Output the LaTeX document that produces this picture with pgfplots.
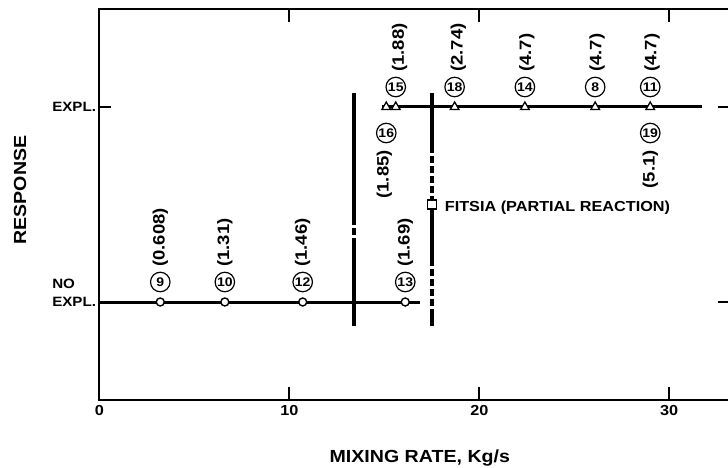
\documentclass[border=0pt]{standalone}
\usepackage{fontspec}
\setmainfont{Liberation Sans}[FakeStretch=1.12]
\usepackage{pgfplots}
\pgfplotsset{compat=1.18}

\newcommand\fs[1]{\bfseries\fontsize{#1bp}{#1bp}\selectfont}

\pgfplotsset{
  circlab/.style={draw=none, forget plot, nodes near coords, point meta=explicit symbolic,
    every node near coord/.append style={black, circle, draw=black, line width=1.2bp,
      minimum size=19.5bp, inner sep=0pt, font=\fs{12.5}, anchor=center, yshift=#1}},
  vallab/.style 2 args={draw=none, forget plot, nodes near coords, point meta=explicit symbolic,
    every node near coord/.append style={black, font=\fs{16.5}, inner sep=0pt,
      yshift=#1, rotate=90, anchor=#2}},
}

\begin{document}
\begin{tikzpicture}
\begin{axis}[
    at={(0bp,0bp)}, anchor=south west,
    scale only axis,
    width=630.5bp, height=390bp,
    xmin=0, xmax=33.2, ymin=-0.5, ymax=1.5,
    clip=false,
    axis line style={line width=2bp},
    every tick/.style={black, line width=2bp},
    major tick length=12bp,
    tick align=inside,
    xtick={0,10,20,30}, xticklabels={0,10,20,30},
    ytick={1}, yticklabels={EXPL.},
    extra y ticks={0}, extra y tick labels={NO\\EXPL.},
    extra y tick style={yticklabel style={align=left, yshift=9bp}},
    /pgf/number format/assume math mode=true,
    xticklabel style={font=\fs{14.5}, yshift=-2bp},
    yticklabel style={font=\bfseries\fontsize{13.5bp}{18bp}\selectfont},
    xlabel={MIXING RATE, Kg/s},
    ylabel={RESPONSE},
    xlabel style={font=\fs{17.5}, at={(axis description cs:0.508,-0.1628)}, anchor=base},
    ylabel style={font=\fs{17.5}, at={(axis description cs:-0.1261,0.537)}, anchor=center},
]

% no explosion
\addplot[black, line width=3bp] coordinates {(0,0) (16.9,0)};
\addplot[only marks, mark=*, mark size=4bp, mark options={fill=white, draw=black, line width=1.4bp}]
  coordinates {(3.2,0) (6.6,0) (10.7,0) (16.1,0)};

% explosion
\addplot[black, line width=3bp] coordinates {(14.9,1) (31.7,1)};
\addplot[only marks, mark=triangle*, mark size=5bp, mark options={fill=white, draw=black, line width=1.3bp}]
  coordinates {(15.1,1) (15.6,1) (18.7,1) (22.4,1) (26.1,1) (29.0,1)};

% boundary at 13.4
\addplot[black, line width=3.6bp] coordinates {(13.4,1.072) (13.4,0.43)};
\addplot[black, line width=3.6bp, dash pattern=on 7bp off 3bp] coordinates {(13.4,0.43) (13.4,0.29)};
\addplot[black, line width=3.6bp] coordinates {(13.4,0.29) (13.4,-0.123)};

% boundary at 17.5
\addplot[black, line width=3.6bp] coordinates {(17.5,1.072) (17.5,0.80)};
\addplot[black, line width=3.6bp, dash pattern=on 7bp off 3bp] coordinates {(17.5,0.80) (17.5,0.53)};
\addplot[black, line width=3.6bp] coordinates {(17.5,0.475) (17.5,0.22)};
\addplot[black, line width=3.6bp, dash pattern=on 7bp off 3bp] coordinates {(17.5,0.22) (17.5,-0.056)};
\addplot[black, line width=3.6bp] coordinates {(17.5,-0.056) (17.5,-0.123)};

% FITSIA partial reaction
\addplot[only marks, mark=square*, mark size=4.5bp, mark options={fill=white, draw=black, line width=1.4bp},
  nodes near coords={FITSIA (PARTIAL REACTION)},
  every node near coord/.append style={black, font=\fs{14.5}, anchor=west, xshift=9bp, yshift=-3bp}]
  coordinates {(17.5,0.5)};

% run numbers
\addplot[circlab=20bp] table[meta=lab] {
x y lab
3.2 0 9
6.6 0 10
10.7 0 12
16.1 0 13
15.6 1 15
18.7 1 18
22.4 1 14
26.1 1 8
29.0 1 11
};
\addplot[circlab=-26bp] table[meta=lab] {
x y lab
15.1 1 16
29.0 1 19
};

% values
\addplot[vallab={35bp}{west}] table[meta=lab] {
x y lab
3.2 0 (0.608)
6.6 0 (1.31)
10.7 0 (1.46)
16.1 0 (1.69)
15.8 1 (1.88)
18.9 1 (2.74)
22.5 1 (4.7)
26.2 1 (4.7)
29.1 1 (4.7)
};
\addplot[vallab={-43bp}{east}] table[meta=lab] {
x y lab
15.0 1 (1.85)
29.0 1 (5.1)
};

\end{axis}
\pgfresetboundingbox
\path (-99.5bp,-68.5bp) rectangle (628.5bp,399.5bp);
\end{tikzpicture}
\end{document}
